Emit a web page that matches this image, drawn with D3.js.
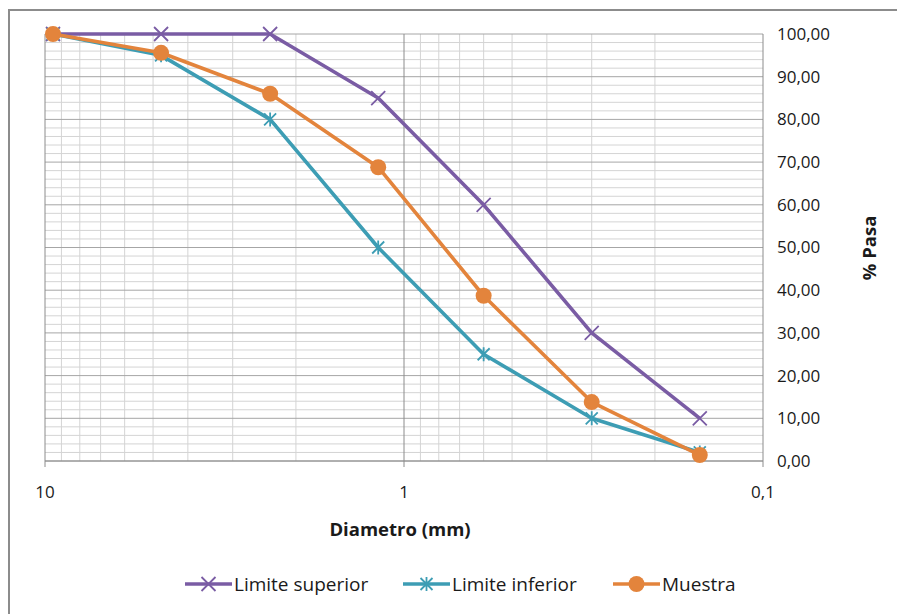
<!DOCTYPE html>
<html>
<head>
<meta charset="utf-8">
<script src="https://cdn.jsdelivr.net/npm/d3@7"></script>
<style>
	body { margin: 0; background: #fff; }
	svg text { font-family: "Open Sans", "Noto Sans", sans-serif; fill: #1a1a1a; }
</style>
</head>
<body>
<div id="chart"></div>
<script>
// sieve sizes (mm) and % passing
var diametros = [9.5, 4.75, 2.36, 1.18, 0.6, 0.3, 0.15];
var limiteSuperior = [100, 100, 100, 85, 60, 30, 10];
var limiteInferior = [100, 95, 80, 50, 25, 10, 2];
var muestra = [100, 95.6, 86, 68.8, 38.7, 13.8, 1.4];
var yTicks = [0, 10, 20, 30, 40, 50, 60, 70, 80, 90, 100];
var xTicks = [10, 1, 0.1];

var width = 897, height = 614;
var plotLeft = 45, plotRight = 763, plotTop = 34, plotBottom = 461;

var svg = d3.select("#chart").append("svg")
	.attr("width", width)
	.attr("height", height);

// chart border
svg.append("rect")
	.attr("x", 9).attr("y", 10)
	.attr("width", 900).attr("height", 620)
	.attr("fill", "none")
	.attr("stroke", "#8c8c8c")
	.attr("stroke-width", 2);

var x = d3.scaleLog().domain([10, 0.1]).range([plotLeft, plotRight]);
var y = d3.scaleLinear().domain([0, 100]).range([plotBottom, plotTop]);

// minor log gridlines
var minorX = [];
[10, 1].forEach(function(dec) {
	for (var k = 2; k <= 9; k++) minorX.push(dec * k / 10);
});
svg.append("g").selectAll("line").data(minorX).enter().append("line")
	.attr("x1", function(d) { return x(d); })
	.attr("x2", function(d) { return x(d); })
	.attr("y1", plotTop).attr("y2", plotBottom)
	.attr("stroke", "#d4d4d4").attr("stroke-width", 1);

var minorY = d3.range(0, 101, 2).filter(function(d) { return d % 10 != 0; });
svg.append("g").selectAll("line").data(minorY).enter().append("line")
	.attr("x1", plotLeft).attr("x2", plotRight)
	.attr("y1", function(d) { return y(d); })
	.attr("y2", function(d) { return y(d); })
	.attr("stroke", "#d4d4d4").attr("stroke-width", 1);

// major gridlines
svg.append("g").selectAll("line").data(yTicks).enter().append("line")
	.attr("x1", plotLeft).attr("x2", plotRight)
	.attr("y1", function(d) { return y(d); })
	.attr("y2", function(d) { return y(d); })
	.attr("stroke", "#a6a6a6").attr("stroke-width", 1);

svg.append("g").selectAll("line").data(xTicks).enter().append("line")
	.attr("x1", function(d) { return x(d); })
	.attr("x2", function(d) { return x(d); })
	.attr("y1", plotTop).attr("y2", plotBottom + 6)
	.attr("stroke", "#8c8c8c").attr("stroke-width", 1);

svg.append("line")
	.attr("x1", plotLeft).attr("x2", plotRight)
	.attr("y1", plotBottom).attr("y2", plotBottom)
	.attr("stroke", "#8c8c8c");

// axis labels
var fmt = function(d) { return d3.format(".2f")(d).replace(".", ","); };
svg.append("g").selectAll("text").data(yTicks).enter().append("text")
	.attr("x", 777)
	.attr("y", function(d) { return y(d); })
	.attr("dy", "0.35em")
	.style("font-size", "17px")
	.text(fmt);

svg.append("g").selectAll("text").data(xTicks).enter().append("text")
	.attr("x", function(d) { return x(d); })
	.attr("y", 498)
	.attr("text-anchor", "middle")
	.style("font-size", "17px")
	.text(function(d) { return String(d).replace(".", ","); });

svg.append("text")
	.attr("x", 400).attr("y", 536)
	.attr("text-anchor", "middle")
	.style("font-size", "18.5px")
	.style("font-weight", "bold")
	.text("Diametro (mm)");

svg.append("text")
	.attr("transform", "translate(876,248) rotate(-90)")
	.attr("text-anchor", "middle")
	.style("font-size", "18.5px")
	.style("font-weight", "bold")
	.text("% Pasa");

// series
var series = [
	{ name: "Limite superior", values: limiteSuperior, color: "#7a5ca4", marker: "x" },
	{ name: "Limite inferior", values: limiteInferior, color: "#3d9db4", marker: "star" },
	{ name: "Muestra", values: muestra, color: "#e3843c", marker: "circle" }
];

var line = d3.line()
	.x(function(d) { return x(d[0]); })
	.y(function(d) { return y(d[1]); });

function drawMarker(g, type, color, cx, cy) {
	if (type == "x") {
		g.append("path")
			.attr("d", "M" + (cx - 7) + "," + (cy - 7) + "L" + (cx + 7) + "," + (cy + 7) +
				"M" + (cx - 7) + "," + (cy + 7) + "L" + (cx + 7) + "," + (cy - 7))
			.attr("stroke", color).attr("stroke-width", 1.8).attr("fill", "none");
	} else if (type == "star") {
		g.append("path")
			.attr("d", "M" + (cx - 6) + "," + (cy - 6) + "L" + (cx + 6) + "," + (cy + 6) +
				"M" + (cx - 6) + "," + (cy + 6) + "L" + (cx + 6) + "," + (cy - 6) +
				"M" + cx + "," + (cy - 7) + "L" + cx + "," + (cy + 7))
			.attr("stroke", color).attr("stroke-width", 1.8).attr("fill", "none");
	} else {
		g.append("circle")
			.attr("cx", cx).attr("cy", cy).attr("r", 8)
			.attr("fill", color);
	}
}

series.forEach(function(s) {
	var pts = diametros.map(function(d, i) { return [d, s.values[i]]; });
	var g = svg.append("g");
	g.append("path")
		.attr("d", line(pts))
		.attr("fill", "none")
		.attr("stroke", s.color)
		.attr("stroke-width", 3.6)
		.attr("stroke-linejoin", "round");
	pts.forEach(function(p) {
		drawMarker(g, s.marker, s.color, x(p[0]), y(p[1]));
	});
});

// legend
var legendX = [185, 403, 613];
series.forEach(function(s, i) {
	var g = svg.append("g");
	var lx = legendX[i], ly = 584;
	g.append("line")
		.attr("x1", lx).attr("x2", lx + 47)
		.attr("y1", ly).attr("y2", ly)
		.attr("stroke", s.color).attr("stroke-width", 3.6);
	drawMarker(g, s.marker, s.color, lx + 23.5, ly);
	g.append("text")
		.attr("x", lx + 49).attr("y", ly)
		.attr("dy", "0.35em")
		.style("font-size", "19px")
		.text(s.name);
});
</script>
</body>
</html>
